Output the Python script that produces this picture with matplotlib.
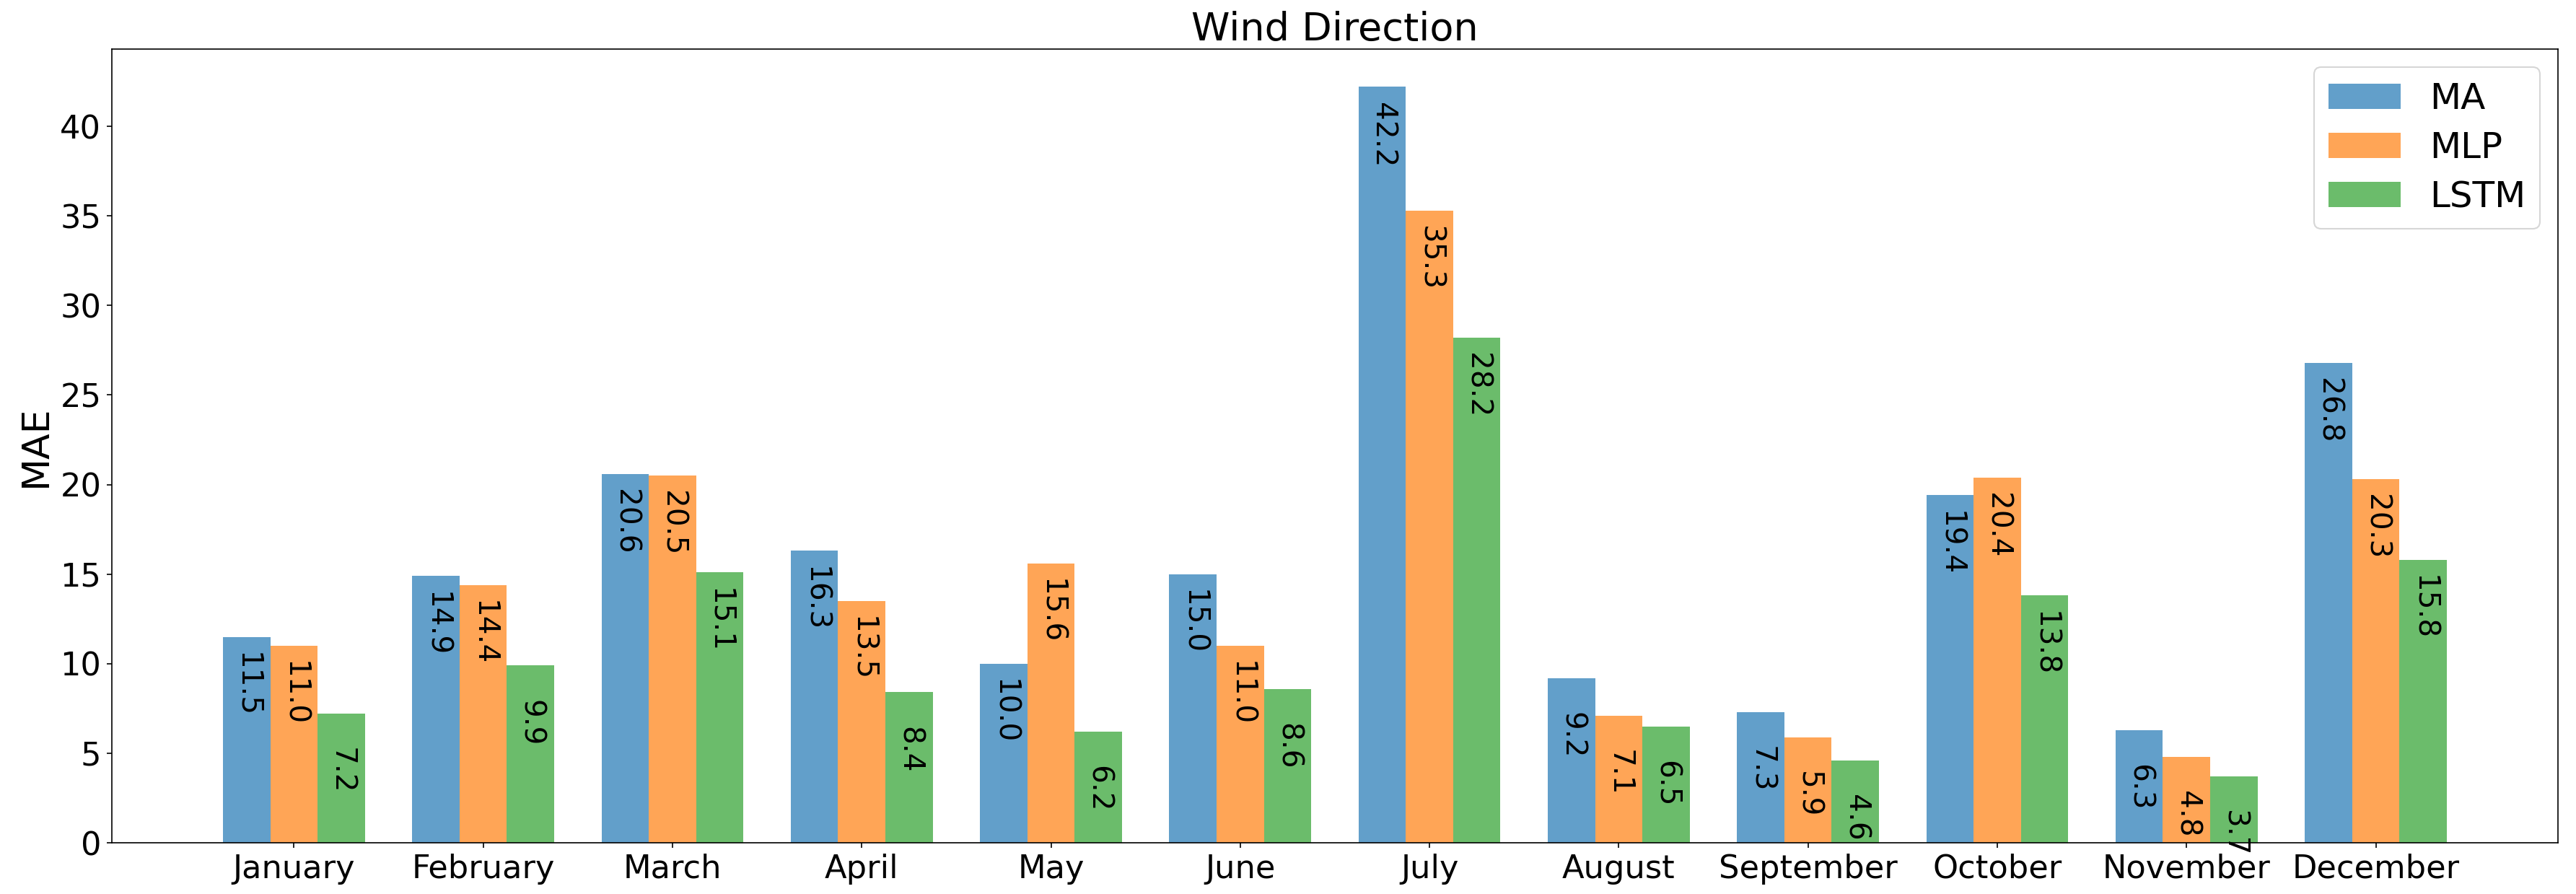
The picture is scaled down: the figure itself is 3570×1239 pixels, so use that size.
import numpy as np
import matplotlib
matplotlib.use("Agg")
import matplotlib.pyplot as plt

months = ["January", "February", "March", "April", "May", "June", "July",
          "August", "September", "October", "November", "December"]
ma = [11.5, 14.9, 20.6, 16.3, 10.0, 15.0, 42.2, 9.2, 7.3, 19.4, 6.3, 26.8]
mlp = [11.0, 14.4, 20.5, 13.5, 15.6, 11.0, 35.3, 7.1, 5.9, 20.4, 4.8, 20.3]
lstm = [7.2, 9.9, 15.1, 8.4, 6.2, 8.6, 28.2, 6.5, 4.6, 13.8, 3.7, 15.8]
series_names = ["MA", "MLP", "LSTM"]
series = [ma, mlp, lstm]
colors = ["tab:blue", "tab:orange", "tab:green"]

fig, ax = plt.subplots(figsize=(23.8, 8.26), dpi=150)
fig.subplots_adjust(left=0.0434, right=0.993, bottom=0.0573, top=0.9451)

x = np.arange(len(months))
width = 0.25
offsets = [-width, 0, width]
for vals, name, col, off in zip(series, series_names, colors, offsets):
    bars = ax.bar(x + off, vals, width, label=name, color=col, alpha=0.7)
    for rect, v in zip(bars, vals):
        ax.text(rect.get_x() + rect.get_width() / 2, v - 4.5, f"{v:.1f}",
                rotation=270, ha="center", va="bottom", fontsize=19.5, color="black")

ax.set_xticks(x)
ax.set_xticklabels(months, fontsize=21.5)
ax.tick_params(axis="y", labelsize=21.5)
ax.set_ylabel("MAE", fontsize=25)
ax.set_title("Wind Direction", fontsize=26)
ax.legend(loc="upper right", fontsize=24, labelspacing=0.4)

fig.savefig("out.png", dpi=150)
